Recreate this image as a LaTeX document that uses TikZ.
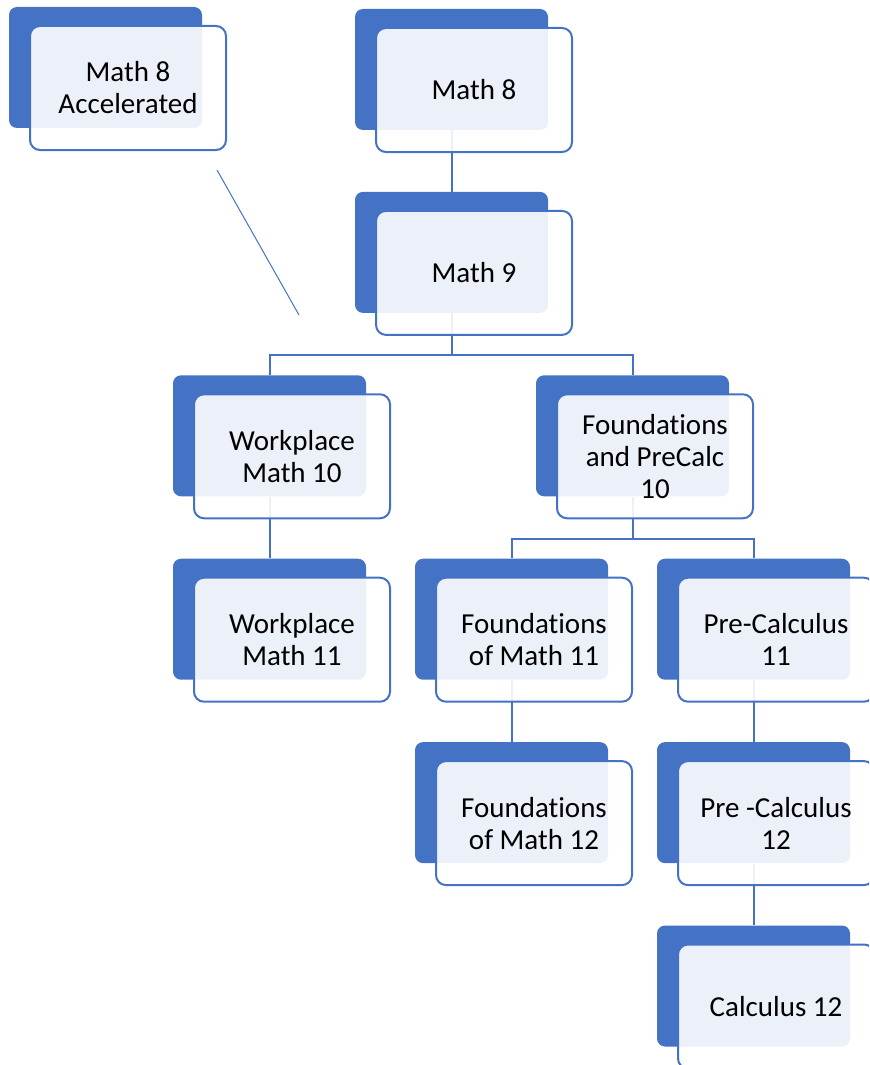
\documentclass[tikz,border=0pt]{standalone}
\usepackage{fontspec}
\setmainfont[Ligatures=NoCommon]{Carlito}
\definecolor{boxblue}{HTML}{4472C4}
\tikzset{
  backbox/.style={fill=boxblue, rounded corners=4pt, minimum width=96.5pt, minimum height=60.5pt, inner sep=0pt},
  frontbox/.style={draw=boxblue, line width=1pt, fill=white, fill opacity=0.9, text opacity=1,
    rounded corners=5pt, minimum width=98pt, minimum height=62pt, inner sep=0pt, align=center,
    font=\fontsize{14.5}{16}\selectfont},
  link/.style={draw=boxblue, line width=1pt}
}
\begin{document}
\begin{tikzpicture}[x=0.5pt,y=-0.5pt]
\useasboundingbox (0,0) rectangle (869,1065);
\clip (0,0) rectangle (869,1065);
% back panels
\node[backbox] (acc) at (105.5,67.5) {};
\node[backbox] (m8) at (451.5,69.5) {};
\node[backbox] (m9) at (451.5,252.4) {};
\node[backbox] (wm10) at (269.5,435.8) {};
\node[backbox] (fpc10) at (632.5,435.8) {};
\node[backbox] (wm11) at (269.5,619.2) {};
\node[backbox] (fm11) at (511.5,619.2) {};
\node[backbox] (pc11) at (753.5,619.2) {};
\node[backbox] (fm12) at (511.5,802.6) {};
\node[backbox] (pc12) at (753.5,802.6) {};
\node[backbox] (c12) at (753.5,986) {};
% links
\coordinate (tailA) at (217,170);
\coordinate (tailB) at (299,315);
\draw[boxblue, line width=0.5pt] (tailA) -- (tailB);
\draw[link] (m8) -- (m9);
\draw[link] (m9.south) -- ++(0,-21pt) -| (wm10.north);
\draw[link] (m9.south) -- ++(0,-21pt) -| (fpc10.north);
\draw[link] (wm10) -- (wm11);
\draw[link] (fpc10.south) -- ++(0,-21pt) -| (fm11.north);
\draw[link] (fpc10.south) -- ++(0,-21pt) -| (pc11.north);
\draw[link] (fm11) -- (fm12);
\draw[link] (pc11) -- (pc12);
\draw[link] (pc12) -- (c12);
% front panels
\foreach \n/\t in {acc/{Math 8\\Accelerated}, m8/{Math 8}, m9/{Math 9},
  wm10/{Workplace\\Math 10}, fpc10/{Foundations\\and PreCalc\\10},
  wm11/{Workplace\\Math 11}, fm11/{Foundations\\of Math 11}, pc11/{Pre-Calculus\\11},
  fm12/{Foundations\\of Math 12}, pc12/{Pre -Calculus\\12}, c12/{Calculus 12}}
  \node[frontbox] (\n-f) at ([shift={(11.25pt,-10.25pt)}]\n.center) {\t};
\end{tikzpicture}
\end{document}
